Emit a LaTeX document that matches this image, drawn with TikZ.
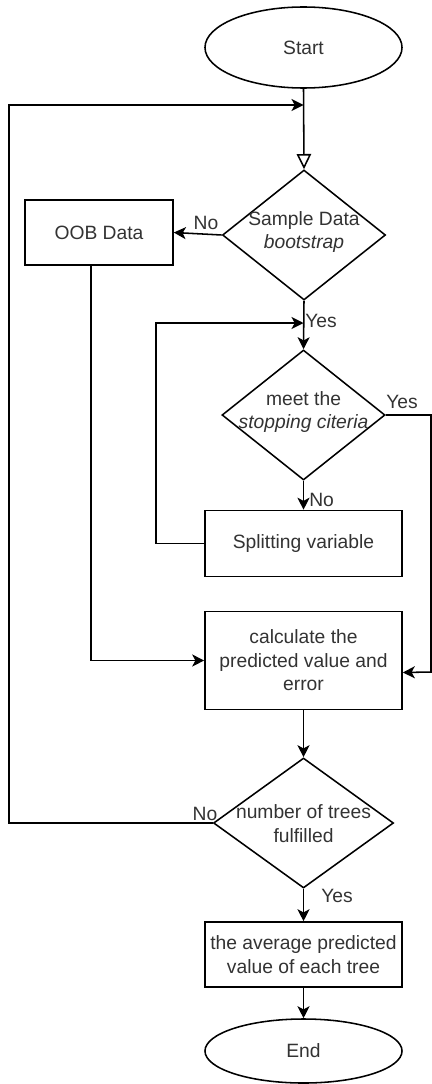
\documentclass[tikz,border=0pt]{standalone}
\usepackage{fontspec}
\setmainfont{Liberation Sans}
\usetikzlibrary{shapes.geometric, arrows.meta}

\tikzset{
  terminal/.style={draw, ellipse, line width=1.1pt, inner sep=0pt, minimum width=4.925cm, text=black!80},
  block/.style={draw, rectangle, line width=1.1pt, inner sep=0pt, align=center, text=black!80},
  decision/.style={draw, diamond, line width=1.1pt, inner sep=0pt, minimum height=3.25cm},
  txt/.style={align=center, inner sep=0pt, text=black!80},
  lbl/.style={inner sep=0pt, text=black!80},
  arr/.style={line width=1.1pt, -{Stealth[length=0.3cm, width=0.3cm, inset=0.08cm]}},
  openarr/.style={line width=1.1pt, -{Triangle[open, length=0.38cm, width=0.36cm]}}
}

\begin{document}
\begin{tikzpicture}[x=0.025cm, y=-0.025cm, font=\fontsize{13.7}{16.7}\selectfont]

  % background / page size
  \fill[white] (0,0) rectangle (432,1084);

  % start
  \node[terminal, minimum height=2.025cm] (start) at (303.5,47.5) {Start};

  % sample data
  \node[decision, minimum width=4.075cm] (sample) at (304,235) {};
  \node[txt] (sampleText) at (304,232) {Sample Data\\\textit{bootstrap}};
  \node[block, minimum width=3.7cm, minimum height=1.625cm] (oob) at (99,232.5) {OOB Data};

  % tree growing
  \node[decision, minimum width=4.075cm] (stop) at (303.5,415) {};
  \node[txt] (stopText) at (303.5,412) {meet the\\\textit{stopping citeria}};
  \node[block, minimum width=4.925cm, minimum height=1.65cm] (split) at (303.5,543.5) {Splitting variable};

  % evaluation
  \node[block, minimum width=4.925cm, minimum height=2.45cm] (calc) at (303.5,660.5) {calculate the\\predicted value and\\error};
  \node[decision, minimum width=4.5cm] (number) at (303.5,823) {};
  \node[txt] (numberText) at (303.5,823.5) {number of trees\\fulfilled};

  % result
  \node[block, minimum width=4.925cm, minimum height=1.625cm] (avg) at (303.5,954.5) {the average predicted\\value of each tree};
  \node[terminal, minimum height=1.6cm] (end) at (303.5,1051) {End};

  % helper points
  \coordinate (loopLeft) at (9,105);
  \coordinate (loopTop) at (303.5,105);
  \coordinate (splitLeft) at (156,323);
  \coordinate (yesTop) at (303.5,323);
  \coordinate (rightEdge) at (431,672);

  % connectors
  \draw[openarr] (start.south) -- (sample.north);
  \draw[arr] (sample.west) -- (oob.east);
  \draw[arr] (sample.south) -- (stop.north);
  \draw[arr] (stop.south) -- (split.north);
  \draw[arr] (split.west) -| (splitLeft) -- (yesTop);
  \draw[arr] (stop.east) -| (rightEdge) -- ([yshift=-0.3cm]calc.east);
  \draw[arr] ([xshift=-0.2cm]oob.south) |- (calc.west);
  \draw[arr] (calc.south) -- (number.north);
  \draw[arr] (number.west) -| (loopLeft) -- (loopTop);
  \draw[arr] (number.south) -- (avg.north);
  \draw[arr] (avg.south) -- (end.north);

  % yes / no labels
  \node[lbl] (noOob) at (206,223) {No};
  \node[lbl, anchor=west] (yesSample) at (305,321) {Yes};
  \node[lbl] (yesStop) at (402,402) {Yes};
  \node[lbl, anchor=west] (noStop) at (309,500) {No};
  \node[lbl] (noNumber) at (205,814) {No};
  \node[lbl, anchor=west] (yesNumber) at (321,896) {Yes};

\end{tikzpicture}
\end{document}
